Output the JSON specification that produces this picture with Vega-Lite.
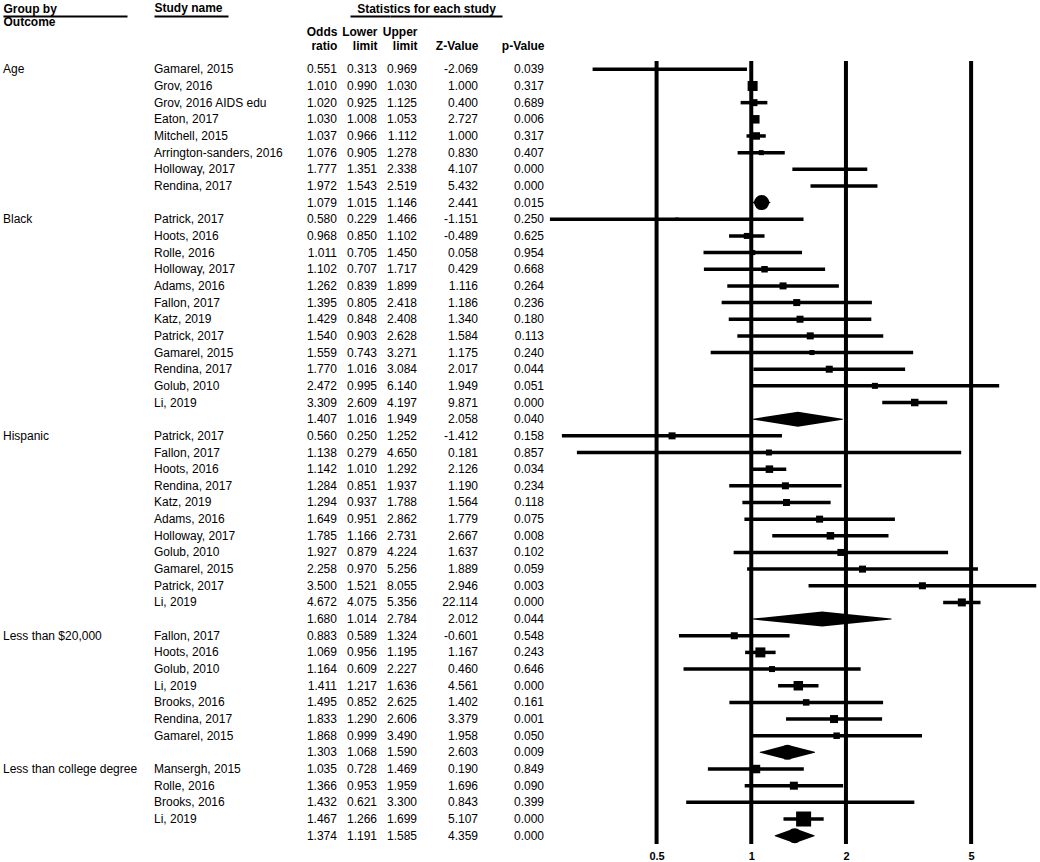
{
  "$schema": "https://vega.github.io/schema/vega-lite/v6.json",
  "background": "white",
  "padding": {"left": 3, "top": 1, "right": 0, "bottom": 0},
  "bounds": "flush",
  "spacing": 0,
  "data": {"values": [
    {"id":1,"group":"Age","study":"Gamarel, 2015","type":"study","or":0.551,"lo":0.313,"hi":0.969,"z":-2.069,"p":0.039,"weight":0.2},
    {"id":2,"group":"Age","study":"Grov, 2016","type":"study","or":1.010,"lo":0.990,"hi":1.030,"z":1.000,"p":0.317,"weight":44.4},
    {"id":3,"group":"Age","study":"Grov, 2016 AIDS edu","type":"study","or":1.020,"lo":0.925,"hi":1.125,"z":0.400,"p":0.689,"weight":21.8},
    {"id":4,"group":"Age","study":"Eaton, 2017","type":"study","or":1.030,"lo":1.008,"hi":1.053,"z":2.727,"p":0.006,"weight":32.1},
    {"id":5,"group":"Age","study":"Mitchell, 2015","type":"study","or":1.037,"lo":0.966,"hi":1.112,"z":1.000,"p":0.317,"weight":25},
    {"id":6,"group":"Age","study":"Arrington-sanders, 2016","type":"study","or":1.076,"lo":0.905,"hi":1.278,"z":0.830,"p":0.407,"weight":11.1},
    {"id":7,"group":"Age","study":"Holloway, 2017","type":"study","or":1.777,"lo":1.351,"hi":2.338,"z":4.107,"p":0.000,"weight":0.2},
    {"id":8,"group":"Age","study":"Rendina, 2017","type":"study","or":1.972,"lo":1.543,"hi":2.519,"z":5.432,"p":0.000,"weight":0.2},
    {"id":9,"group":"Age","type":"summary","or":1.079,"lo":1.015,"hi":1.146,"z":2.441,"p":0.015},
    {"id":10,"group":"Black","study":"Patrick, 2017","type":"study","or":0.580,"lo":0.229,"hi":1.466,"z":-1.151,"p":0.250,"weight":5.4},
    {"id":11,"group":"Black","study":"Hoots, 2016","type":"study","or":0.968,"lo":0.850,"hi":1.102,"z":-0.489,"p":0.625,"weight":16},
    {"id":12,"group":"Black","study":"Rolle, 2016","type":"study","or":1.011,"lo":0.705,"hi":1.450,"z":0.058,"p":0.954,"weight":11.1},
    {"id":13,"group":"Black","study":"Holloway, 2017","type":"study","or":1.102,"lo":0.707,"hi":1.717,"z":0.429,"p":0.668,"weight":18.8},
    {"id":14,"group":"Black","study":"Adams, 2016","type":"study","or":1.262,"lo":0.839,"hi":1.899,"z":1.116,"p":0.264,"weight":21.8},
    {"id":15,"group":"Black","study":"Fallon, 2017","type":"study","or":1.395,"lo":0.805,"hi":2.418,"z":1.186,"p":0.236,"weight":21.8},
    {"id":16,"group":"Black","study":"Katz, 2019","type":"study","or":1.429,"lo":0.848,"hi":2.408,"z":1.340,"p":0.180,"weight":21.8},
    {"id":17,"group":"Black","study":"Patrick, 2017","type":"study","or":1.540,"lo":0.903,"hi":2.628,"z":1.584,"p":0.113,"weight":21.8},
    {"id":18,"group":"Black","study":"Gamarel, 2015","type":"study","or":1.559,"lo":0.743,"hi":3.271,"z":1.175,"p":0.240,"weight":11.1},
    {"id":19,"group":"Black","study":"Rendina, 2017","type":"study","or":1.770,"lo":1.016,"hi":3.084,"z":2.017,"p":0.044,"weight":21.8},
    {"id":20,"group":"Black","study":"Golub, 2010","type":"study","or":2.472,"lo":0.995,"hi":6.140,"z":1.949,"p":0.051,"weight":16},
    {"id":21,"group":"Black","study":"Li, 2019","type":"study","or":3.309,"lo":2.609,"hi":4.197,"z":9.871,"p":0.000,"weight":25},
    {"id":22,"group":"Black","type":"summary","or":1.407,"lo":1.016,"hi":1.949,"z":2.058,"p":0.040},
    {"id":23,"group":"Hispanic","study":"Patrick, 2017","type":"study","or":0.560,"lo":0.250,"hi":1.252,"z":-1.412,"p":0.158,"weight":21.8},
    {"id":24,"group":"Hispanic","study":"Fallon, 2017","type":"study","or":1.138,"lo":0.279,"hi":4.650,"z":0.181,"p":0.857,"weight":16},
    {"id":25,"group":"Hispanic","study":"Hoots, 2016","type":"study","or":1.142,"lo":1.010,"hi":1.292,"z":2.126,"p":0.034,"weight":25},
    {"id":26,"group":"Hispanic","study":"Rendina, 2017","type":"study","or":1.284,"lo":0.851,"hi":1.937,"z":1.190,"p":0.234,"weight":21.8},
    {"id":27,"group":"Hispanic","study":"Katz, 2019","type":"study","or":1.294,"lo":0.937,"hi":1.788,"z":1.564,"p":0.118,"weight":21.8},
    {"id":28,"group":"Hispanic","study":"Adams, 2016","type":"study","or":1.649,"lo":0.951,"hi":2.862,"z":1.779,"p":0.075,"weight":21.8},
    {"id":29,"group":"Hispanic","study":"Holloway, 2017","type":"study","or":1.785,"lo":1.166,"hi":2.731,"z":2.667,"p":0.008,"weight":25},
    {"id":30,"group":"Hispanic","study":"Golub, 2010","type":"study","or":1.927,"lo":0.879,"hi":4.224,"z":1.637,"p":0.102,"weight":21.8},
    {"id":31,"group":"Hispanic","study":"Gamarel, 2015","type":"study","or":2.258,"lo":0.970,"hi":5.256,"z":1.889,"p":0.059,"weight":21.8},
    {"id":32,"group":"Hispanic","study":"Patrick, 2017","type":"study","or":3.500,"lo":1.521,"hi":8.055,"z":2.946,"p":0.003,"weight":21.8},
    {"id":33,"group":"Hispanic","study":"Li, 2019","type":"study","or":4.672,"lo":4.075,"hi":5.356,"z":22.114,"p":0.000,"weight":28.4},
    {"id":34,"group":"Hispanic","type":"summary","or":1.680,"lo":1.014,"hi":2.784,"z":2.012,"p":0.044},
    {"id":35,"group":"Less than $20,000","study":"Fallon, 2017","type":"study","or":0.883,"lo":0.589,"hi":1.324,"z":-0.601,"p":0.548,"weight":21.8},
    {"id":36,"group":"Less than $20,000","study":"Hoots, 2016","type":"study","or":1.069,"lo":0.956,"hi":1.195,"z":1.167,"p":0.243,"weight":44.4},
    {"id":37,"group":"Less than $20,000","study":"Golub, 2010","type":"study","or":1.164,"lo":0.609,"hi":2.227,"z":0.460,"p":0.646,"weight":16},
    {"id":38,"group":"Less than $20,000","study":"Li, 2019","type":"study","or":1.411,"lo":1.217,"hi":1.636,"z":4.561,"p":0.000,"weight":40.1},
    {"id":39,"group":"Less than $20,000","study":"Brooks, 2016","type":"study","or":1.495,"lo":0.852,"hi":2.625,"z":1.402,"p":0.161,"weight":18.8},
    {"id":40,"group":"Less than $20,000","study":"Rendina, 2017","type":"study","or":1.833,"lo":1.290,"hi":2.606,"z":3.379,"p":0.001,"weight":28.4},
    {"id":41,"group":"Less than $20,000","study":"Gamarel, 2015","type":"study","or":1.868,"lo":0.999,"hi":3.490,"z":1.958,"p":0.050,"weight":18.8},
    {"id":42,"group":"Less than $20,000","type":"summary","or":1.303,"lo":1.068,"hi":1.590,"z":2.603,"p":0.009},
    {"id":43,"group":"Less than college degree","study":"Mansergh, 2015","type":"study","or":1.035,"lo":0.728,"hi":1.469,"z":0.190,"p":0.849,"weight":32.1},
    {"id":44,"group":"Less than college degree","study":"Rolle, 2016","type":"study","or":1.366,"lo":0.953,"hi":1.959,"z":1.696,"p":0.090,"weight":28.4},
    {"id":45,"group":"Less than college degree","study":"Brooks, 2016","type":"study","or":1.432,"lo":0.621,"hi":3.300,"z":0.843,"p":0.399,"weight":1.8},
    {"id":46,"group":"Less than college degree","study":"Li, 2019","type":"study","or":1.467,"lo":1.266,"hi":1.699,"z":5.107,"p":0.000,"weight":100},
    {"id":47,"group":"Less than college degree","type":"summary","or":1.374,"lo":1.191,"hi":1.585,"z":4.359,"p":0.000}
  ]},
  "config": {
    "locale": {"number": {"decimal": ".", "thousands": ",", "grouping": [3], "currency": ["$", ""], "minus": "-"}},
    "view": {"stroke": null},
    "axis": {"labelFont": "Liberation Sans", "labelFontSize": 12, "labelFontWeight": "bold", "labelColor": "black", "ticks": false, "grid": false, "domainColor": "black", "domainWidth": 2, "labelAngle": 0, "labelOverlap": false, "labelFlush": false, "labelBound": false, "labelLineHeight": 14, "titleFont": "Liberation Sans", "titleFontSize": 12, "titleFontWeight": "bold", "titleColor": "black"},
    "text": {"font": "Liberation Sans", "fontSize": 12, "color": "black", "baseline": "middle"}
  },
  "hconcat": [
    {
      "width": 151, "height": 783,
      "transform": [{"aggregate": [{"op": "min", "field": "id", "as": "id"}], "groupby": ["group"]}],
      "mark": {"type": "text", "align": "left"},
      "encoding": {
        "x": {"datum": "Group by Outcome", "type": "nominal", "scale": {"type": "point", "padding": 0, "align": 0, "range": [0, 124]},
              "axis": {"orient": "top", "title": null, "offset": 45, "domain": true, "labelAlign": "left", "labelBaseline": "top", "labelPadding": 12.75, "labelLineHeight": 13.5, "labelExpr": "['Group by', 'Outcome']"}},
        "y": {"field": "id", "type": "quantitative", "scale": {"domain": [0.5, 47.5], "reverse": true, "nice": false, "zero": false}, "axis": null},
        "text": {"field": "group"}
      }
    },
    {
      "width": 74, "height": 783,
      "transform": [{"filter": "datum.type === 'study'"}],
      "mark": {"type": "text", "align": "left"},
      "encoding": {
        "x": {"datum": "Study name", "type": "nominal", "scale": {"type": "point", "padding": 0, "align": 0},
              "axis": {"orient": "top", "title": null, "offset": 45, "domain": true, "labelAlign": "left", "labelBaseline": "bottom", "labelPadding": 1.5}},
        "y": {"field": "id", "type": "quantitative", "scale": {"domain": [0.5, 47.5], "reverse": true, "nice": false, "zero": false}, "axis": null},
        "text": {"field": "study"}
      }
    },
    {
      "width": 122, "height": 783,
      "mark": {"type": "text", "align": "right"},
      "encoding": {
        "x": {"datum": "Odds ratio", "type": "nominal", "scale": {"type": "point", "padding": 0, "align": 0.893},
              "axis": {"orient": "top", "title": null, "offset": 45, "domain": false, "labelAlign": "right", "labelBaseline": "middle", "labelPadding": -15, "labelExpr": "split(datum.label, ' ')"}},
        "y": {"field": "id", "type": "quantitative", "scale": {"domain": [0.5, 47.5], "reverse": true, "nice": false, "zero": false}, "axis": null},
        "text": {"field": "or", "type": "quantitative", "format": ".3f"}
      }
    },
    {
      "width": 40, "height": 783,
      "mark": {"type": "text", "align": "right"},
      "encoding": {
        "x": {"datum": "Lower limit", "type": "nominal", "scale": {"type": "point", "padding": 0, "align": 0.675},
              "axis": {"orient": "top", "title": null, "offset": 45, "domain": true, "labelAlign": "right", "labelBaseline": "middle", "labelPadding": -15, "labelExpr": "split(datum.label, ' ')"}},
        "y": {"field": "id", "type": "quantitative", "scale": {"domain": [0.5, 47.5], "reverse": true, "nice": false, "zero": false}, "axis": null},
        "text": {"field": "lo", "type": "quantitative", "format": ".3f"}
      }
    },
    {
      "width": 72, "height": 783,
      "mark": {"type": "text", "align": "right"},
      "encoding": {
        "x": {"datum": "Upper limit", "type": "nominal", "scale": {"type": "point", "padding": 0, "align": 0.375},
              "axis": {"orient": "top", "title": "Statistics for each study", "titlePadding": 1, "titleAnchor": "middle", "offset": 45, "domain": true, "labelAlign": "right", "labelBaseline": "middle", "labelPadding": -15, "labelExpr": "split(datum.label, ' ')"}},
        "y": {"field": "id", "type": "quantitative", "scale": {"domain": [0.5, 47.5], "reverse": true, "nice": false, "zero": false}, "axis": null},
        "text": {"field": "hi", "type": "quantitative", "format": ".3f"}
      }
    },
    {
      "width": 40, "height": 783,
      "mark": {"type": "text", "align": "right"},
      "encoding": {
        "x": {"datum": "Z-Value", "type": "nominal", "scale": {"type": "point", "padding": 0, "align": 0.4},
              "axis": {"orient": "top", "title": null, "offset": 45, "domain": true, "labelAlign": "right", "labelBaseline": "middle", "labelPadding": -29}},
        "y": {"field": "id", "type": "quantitative", "scale": {"domain": [0.5, 47.5], "reverse": true, "nice": false, "zero": false}, "axis": null},
        "text": {"field": "z", "type": "quantitative", "format": ".3f"}
      }
    },
    {
      "width": 42, "height": 783,
      "mark": {"type": "text", "align": "right"},
      "encoding": {
        "x": {"datum": "p-Value", "type": "nominal", "scale": {"type": "point", "padding": 0, "align": 1},
              "axis": {"orient": "top", "title": null, "offset": 45, "domain": false, "labelAlign": "right", "labelBaseline": "middle", "labelPadding": -29}},
        "y": {"field": "id", "type": "quantitative", "scale": {"domain": [0.5, 47.5], "reverse": true, "nice": false, "zero": false}, "axis": null},
        "text": {"field": "p", "type": "quantitative", "format": ".3f"}
      }
    },
    {
      "width": 496, "height": 783,
      "layer": [
        {
          "data": {"values": [{"ref": 0.5}, {"ref": 1}, {"ref": 2}, {"ref": 5}]},
          "mark": {"type": "rule", "color": "black", "strokeWidth": 4},
          "encoding": {
            "x": {"field": "ref", "type": "quantitative",
                  "scale": {"type": "log", "domain": [0.2193, 8.279], "nice": false},
                  "axis": {"orient": "bottom", "values": [0.5, 1, 2, 5], "format": "~g", "title": null, "domain": false, "labelFontSize": 11, "labelPadding": 6, "labelAlign": "center", "labelBaseline": "top"}}
          }
        },
        {
          "transform": [{"filter": "datum.type === 'study'"}],
          "mark": {"type": "rule", "color": "black", "strokeWidth": 3.5},
          "encoding": {
            "x": {"field": "lo", "type": "quantitative"},
            "x2": {"field": "hi"},
            "y": {"field": "id", "type": "quantitative", "scale": {"domain": [0.5, 47.5], "reverse": true, "nice": false, "zero": false}, "axis": null}
          }
        },
        {
          "transform": [{"filter": "datum.type === 'study'"}],
          "mark": {"type": "point", "shape": "square", "filled": true, "color": "black", "opacity": 1},
          "encoding": {
            "x": {"field": "or", "type": "quantitative"},
            "y": {"field": "id", "type": "quantitative"},
            "size": {"field": "weight", "type": "quantitative", "scale": {"domain": [0, 100], "range": [0, 225], "zero": true}, "legend": null}
          }
        },
        {
          "transform": [{"filter": "datum.type === 'summary'"}, {"fold": ["lo", "or", "hi"], "as": ["k", "v"]}],
          "mark": {"type": "trail", "color": "black"},
          "encoding": {
            "x": {"field": "v", "type": "quantitative"},
            "y": {"field": "id", "type": "quantitative"},
            "detail": {"field": "id", "type": "nominal"},
            "order": {"field": "v", "type": "quantitative"},
            "size": {"field": "k", "type": "nominal", "scale": {"type": "ordinal", "domain": ["lo", "or", "hi"], "range": [0, 15, 0]}, "legend": null}
          }
        }
      ]
    }
  ]
}
